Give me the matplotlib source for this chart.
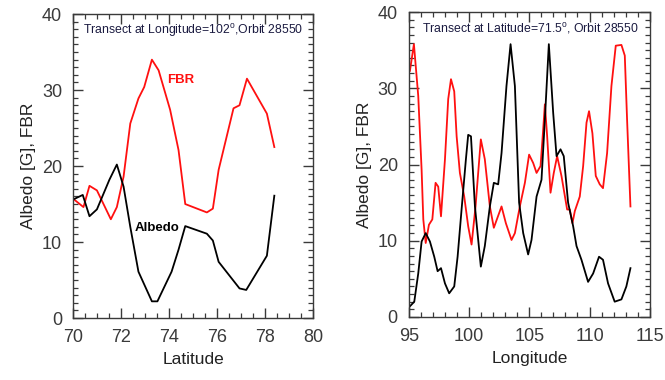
import numpy as np
import matplotlib.pyplot as plt
from matplotlib.ticker import MultipleLocator

gray = '#3a3a3a'
plt.rcParams['font.family'] = ['Liberation Sans', 'DejaVu Sans']
for a in ('xtick', 'ytick'):
    plt.rcParams[a + '.direction'] = 'in'
    plt.rcParams[a + '.major.size'] = 7
    plt.rcParams[a + '.minor.size'] = 3.5
    plt.rcParams[a + '.major.width'] = 1.0
    plt.rcParams[a + '.minor.width'] = 0.9
    plt.rcParams[a + '.major.pad'] = 8
    plt.rcParams[a + '.labelsize'] = 13
    plt.rcParams[a + '.color'] = gray
    plt.rcParams[a + '.labelcolor'] = gray
plt.rcParams['xtick.top'] = True
plt.rcParams['ytick.right'] = True
plt.rcParams['axes.edgecolor'] = gray
plt.rcParams['axes.linewidth'] = 1.0

# left panel: transect at longitude 102
lat_fbr = [70.0, 70.43, 70.68, 70.99, 71.57, 71.82, 72.1, 72.38, 72.72, 72.96, 73.28, 73.56,
           74.04, 74.39, 74.67, 75.57, 75.82, 76.06, 76.68, 76.93, 77.24, 78.07, 78.38]
fbr_lat = [15.7, 14.6, 17.4, 16.8, 13.0, 14.6, 18.6, 25.6, 28.9, 30.4, 34.0, 32.6,
           27.4, 22.1, 15.0, 13.9, 14.4, 19.5, 27.6, 28.0, 31.5, 26.9, 22.5]
lat_alb = [70.0, 70.4, 70.68, 70.99, 71.51, 71.82, 72.1, 72.38, 72.72, 73.28, 73.51, 74.1,
           74.39, 74.67, 75.57, 75.82, 76.06, 76.93, 77.21, 78.07, 78.38]
alb_lat = [15.6, 16.2, 13.4, 14.3, 18.2, 20.2, 17.3, 12.0, 6.1, 2.2, 2.2, 6.1,
           9.0, 12.1, 11.1, 10.2, 7.4, 3.9, 3.7, 8.2, 16.1]

# right panel: transect at latitude 71.5
lon_fbr = [95.08, 95.41, 95.77, 96.05, 96.19, 96.39, 96.66, 96.94, 97.21, 97.43, 97.66, 97.99,
           98.26, 98.49, 98.76, 98.96, 99.23, 99.59, 99.92, 100.2, 100.53, 100.97, 101.3,
           101.72, 102.05, 102.69, 103.05, 103.52, 103.8, 104.21, 104.63, 104.98, 105.32,
           105.6, 105.93, 106.15, 106.29, 106.48, 106.76, 107.03, 107.31, 107.67, 108.14,
           108.36, 108.58, 108.78, 109.19, 109.47, 109.75, 109.96, 110.24, 110.52, 110.85,
           111.12, 111.46, 111.82, 112.18, 112.65, 112.93, 113.12, 113.4]
fbr_lon = [32.3, 35.8, 29.0, 19.3, 12.8, 9.7, 12.1, 12.8, 17.6, 17.1, 13.2, 20.7,
           28.6, 31.2, 29.6, 23.7, 18.9, 15.8, 11.9, 9.5, 14.5, 23.3, 20.7,
           14.5, 11.7, 14.5, 12.3, 10.1, 11.0, 14.5, 17.6, 21.3, 20.2,
           18.9, 19.8, 24.6, 27.9, 23.7, 16.3, 18.9, 21.1, 18.5, 14.1,
           14.1, 12.3, 13.9, 15.8, 19.8, 25.5, 27.0, 24.1, 18.5, 17.4,
           16.9, 21.5, 30.3, 35.6, 35.7, 34.3, 25.9, 14.5]
lon_alb = [95.08, 95.44, 95.77, 96.05, 96.39, 96.74, 97.1, 97.38, 97.66, 97.99, 98.34, 98.76,
           99.04, 99.37, 99.73, 99.92, 100.15, 100.48, 100.97, 101.3, 101.72, 102.05, 102.41,
           102.69, 103.1, 103.44, 103.8, 104.15, 104.49, 104.9, 105.18, 105.6, 106.01,
           106.29, 106.62, 106.98, 107.26, 107.59, 107.86, 108.22, 108.64, 108.92, 109.33,
           109.88, 110.3, 110.79, 111.12, 111.54, 112.09, 112.65, 113.06, 113.4]
alb_lon = [1.4, 2.0, 5.7, 9.9, 11.0, 9.9, 7.9, 6.0, 6.4, 4.4, 3.1, 4.0,
           7.9, 14.1, 20.7, 23.9, 23.7, 14.5, 6.6, 9.3, 14.5, 17.6, 17.4,
           21.5, 30.3, 35.8, 30.3, 15.0, 11.0, 8.2, 10.1, 15.8, 18.0,
           25.9, 35.8, 26.8, 21.1, 22.0, 21.1, 15.0, 11.9, 9.3, 7.5,
           4.6, 5.7, 7.9, 7.5, 4.4, 2.0, 2.3, 4.0, 6.4]

fig = plt.figure(figsize=(6.65, 3.8), dpi=100)
ax1 = fig.add_axes([0.110, 0.163, 0.361, 0.800])
ax2 = fig.add_axes([0.615, 0.166, 0.362, 0.802])


def style(ax, xmajor, xminor):
    ax.xaxis.set_major_locator(MultipleLocator(xmajor))
    ax.xaxis.set_minor_locator(MultipleLocator(xminor))
    ax.yaxis.set_major_locator(MultipleLocator(10))
    ax.yaxis.set_minor_locator(MultipleLocator(1))
    ax.set_ylim(0, 40)
    ax.set_ylabel('Albedo [G], FBR', fontsize=12.5, color='#222222')


ax1.plot(lat_fbr, fbr_lat, color='#ff1010', lw=1.3)
ax1.plot(lat_alb, alb_lat, color='black', lw=1.3)
ax1.set_xlim(70, 80)
style(ax1, 2, 0.5)
ax1.set_xlabel('Latitude', fontsize=12.5, color='#222222')
ax1.text(70.4, 37.8, 'Transect at Longitude=102$^\\mathregular{o}$,Orbit 28550',
         fontsize=8.8, color='#1a1a40', va='center')
ax1.text(74.5, 31.3, 'FBR', color='#ff1010', fontsize=9.5, fontweight='bold',
         ha='center', va='center')
ax1.text(73.5, 11.8, 'Albedo', color='black', fontsize=9.5, fontweight='bold',
         ha='center', va='center')

ax2.plot(lon_fbr, fbr_lon, color='#ff1010', lw=1.3)
ax2.plot(lon_alb, alb_lon, color='black', lw=1.3)
ax2.set_xlim(95, 115)
style(ax2, 5, 1)
ax2.set_xlabel('Longitude', fontsize=12.5, color='#222222')
ax2.text(96.1, 37.9, 'Transect at Latitude=71.5$^\\mathregular{o}$, Orbit 28550',
         fontsize=8.8, color='#1a1a40', va='center')

fig.savefig('out.png', dpi=100)
